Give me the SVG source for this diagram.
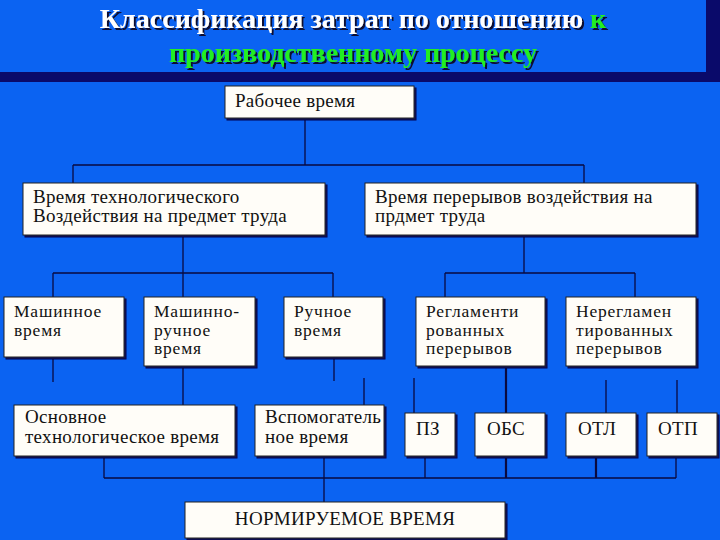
<svg xmlns="http://www.w3.org/2000/svg" width="720" height="540" viewBox="0 0 720 540">
<defs>
<filter id="sh" x="-5%" y="-5%" width="115%" height="130%">
<feFlood flood-color="#0a0a50"/>
<feComposite in2="SourceAlpha" operator="in"/>
<feOffset dx="2" dy="2" result="s"/>
<feMerge><feMergeNode in="s"/><feMergeNode in="SourceGraphic"/></feMerge>
</filter>
<filter id="tsh" x="-5%" y="-20%" width="110%" height="150%">
<feFlood flood-color="#101030"/>
<feComposite in2="SourceAlpha" operator="in"/>
<feOffset dx="1.5" dy="1.5" result="s"/>
<feMerge><feMergeNode in="s"/><feMergeNode in="SourceGraphic"/></feMerge>
</filter>
</defs>
<style>
.box{fill:#fffdf8;stroke:#222;stroke-width:1;filter:url(#sh)}
.t{font-family:"Liberation Serif","Times New Roman",serif;font-size:19px;letter-spacing:0.3px;fill:#111}
.t3{font-family:"Liberation Serif","Times New Roman",serif;font-size:17.5px;letter-spacing:0.8px;fill:#111}
.ln{stroke:#0a0a40;stroke-width:1.3;fill:none}
.thick{stroke:#0a0a40;stroke-width:2.2;fill:none}
.title{font-family:"Liberation Serif","Times New Roman",serif;font-weight:bold;font-size:28px;filter:url(#tsh)}
</style>
<rect width="720" height="540" fill="#0b63f2"/>
<rect x="706" y="0" width="14" height="82" fill="#0a0a6a"/>
<rect x="0" y="72" width="720" height="10" fill="#0a0a6a"/>
<g id="title" class="title" text-anchor="middle">
<text x="353" y="28"><tspan fill="#ffffff">Классификация затрат по отношению </tspan><tspan fill="#22ee22">к</tspan></text>
<text x="353" y="62" fill="#22ee22">производственному процессу</text>
</g>
<g id="connectors">
<path class="ln" d="M305 118V165M73 165H584M73 165V183M584 165V183"/>
<path class="ln" d="M183 235V273M53 273H333M53 273V297M183 273V297M333 273V297"/>
<path class="ln" d="M524 235V273M445 273H635M445 273V297M635 273V297"/>
<path class="ln" d="M53 357V382M334 357V381M183 366V405M364 378V405M414 378V413"/>
<path class="thick" d="M506 366V413"/>
<path class="ln" d="M606 380V413M677 380V413"/>
<path class="ln" d="M104 456V478M104 478H676M324 456V502M425 456V478M676 456V478"/>
<path class="thick" d="M506 456V478M596 456V478"/>
</g>
<g id="n-work"><rect class="box" x="225" y="86" width="189" height="32"/><text class="t" x="235" y="107">Рабочее время</text></g>
<g id="n-tech"><rect class="box" x="23" y="183" width="302" height="52"/><text class="t" x="33" y="203">Время технологического</text><text class="t" x="33" y="222">Воздействия на предмет труда</text></g>
<g id="n-breaks"><rect class="box" x="365" y="183" width="331" height="52"/><text class="t" x="375" y="203">Время перерывов воздействия на</text><text class="t" x="375" y="222">прдмет труда</text></g>
<g id="n-machine"><rect class="box" x="4" y="297" width="120" height="60"/><text class="t3" x="14" y="317">Машинное</text><text class="t3" x="14" y="335.5">время</text></g>
<g id="n-machman"><rect class="box" x="144" y="297" width="111" height="69"/><text class="t3" x="154" y="317">Машинно-</text><text class="t3" x="154" y="335.5">ручное</text><text class="t3" x="154" y="354">время</text></g>
<g id="n-manual"><rect class="box" x="284" y="297" width="99" height="60"/><text class="t3" x="294" y="317">Ручное</text><text class="t3" x="294" y="335.5">время</text></g>
<g id="n-reg"><rect class="box" x="416" y="297" width="129" height="69"/><text class="t3" x="426" y="317">Регламенти</text><text class="t3" x="426" y="335.5">рованных</text><text class="t3" x="426" y="354">перерывов</text></g>
<g id="n-nonreg"><rect class="box" x="566" y="297" width="130" height="69"/><text class="t3" x="576" y="317">Нерегламен</text><text class="t3" x="576" y="335.5">тированных</text><text class="t3" x="576" y="354">перерывов</text></g>
<g id="n-main"><rect class="box" x="14" y="405" width="221" height="51"/><text class="t" x="25" y="423">Основное</text><text class="t" x="25" y="443">технологическое время</text></g>
<g id="n-aux"><rect class="box" x="255" y="405" width="129" height="51"/><text class="t" x="265" y="423">Вспомогатель</text><text class="t" x="265" y="443">ное время</text></g>
<g id="n-pz"><rect class="box" x="405" y="413" width="50" height="43"/><text class="t" x="416" y="435">ПЗ</text></g>
<g id="n-obs"><rect class="box" x="475" y="413" width="70" height="43"/><text class="t" x="487" y="435">ОБС</text></g>
<g id="n-otl"><rect class="box" x="566" y="413" width="70" height="43"/><text class="t" x="578" y="435">ОТЛ</text></g>
<g id="n-otp"><rect class="box" x="647" y="413" width="70" height="43"/><text class="t" x="658" y="435">ОТП</text></g>
<g id="n-norm"><rect class="box" x="185" y="502" width="320" height="36"/><text class="t" x="345" y="525" text-anchor="middle">НОРМИРУЕМОЕ ВРЕМЯ</text></g>
</svg>
